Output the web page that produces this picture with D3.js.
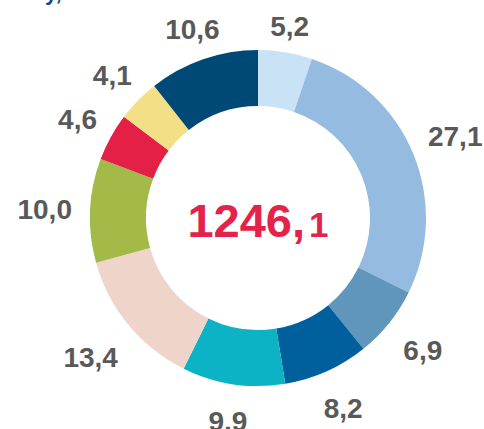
<!DOCTYPE html>
<html>
<head>
<meta charset="utf-8">
<script src="https://cdn.jsdelivr.net/npm/d3@7"></script>
<style>
  body { margin: 0; background: #fff; }
  svg { display: block; font-family: "Liberation Sans", Arial, sans-serif; }
</style>
</head>
<body>
<svg id="chart" width="484" height="429"></svg>
<script>
const labels = ["5,2", "27,1", "6,9", "8,2", "9,9", "13,4", "10,0", "4,6", "4,1", "10,6"];
const values = [5.2, 27.1, 6.9, 8.2, 9.9, 13.4, 10.0, 4.6, 4.1, 10.6];
const colors = ["#c9e2f6", "#95bbe0", "#6096bb", "#00609e", "#0bb3c4",
                "#efd5c9", "#a3b948", "#e42046", "#f3df85", "#004876"];
const totalMain = "1246,";
const totalDecimal = "1";

const cx = 258, cy = 218;
const rInner = 112, rOuter = 168, rLabel = 186;

const svg = d3.select("#chart");

// cut-off title fragment at the very top
svg.append("text")
  .attr("x", 45).attr("y", 0)
  .attr("font-size", 22).attr("font-weight", "bold")
  .attr("fill", "#0b4a7c")
  .text("y,");

const g = svg.append("g").attr("transform", `translate(${cx},${cy})`);

const pie = d3.pie().sort(null).value(d => d);
const arcs = pie(values);

const arc = d3.arc().innerRadius(rInner).outerRadius(rOuter);

g.selectAll("path")
  .data(arcs)
  .join("path")
  .attr("d", arc)
  .attr("fill", (_, i) => colors[i]);

// outside-end labels: push the text box out so its edge clears the ring
g.selectAll("text.lbl")
  .data(arcs)
  .join("text")
  .attr("class", "lbl")
  .attr("text-anchor", "middle")
  .attr("dy", "0.36em")
  .attr("font-size", 28)
  .attr("font-weight", "bold")
  .attr("fill", "#595959")
  .text((_, i) => labels[i])
  .attr("transform", function(d) {
    const a = (d.startAngle + d.endAngle) / 2;
    const s = Math.sin(a), c = Math.cos(a);
    const w = this.getComputedTextLength();
    const hh = c < 0 ? 16 : 6;
    const r = rLabel + Math.abs(s) * w / 2 + Math.abs(c) * hh;
    return `translate(${r * s},${-r * c})`;
  });

// total in the middle
const total = g.append("text")
  .attr("text-anchor", "middle")
  .attr("y", 19)
  .attr("font-weight", "bold")
  .attr("fill", "#e4234a");
total.append("tspan").attr("font-size", 47).text(totalMain);
total.append("tspan").attr("font-size", 35).attr("dx", 4).text(totalDecimal);
</script>
</body>
</html>
